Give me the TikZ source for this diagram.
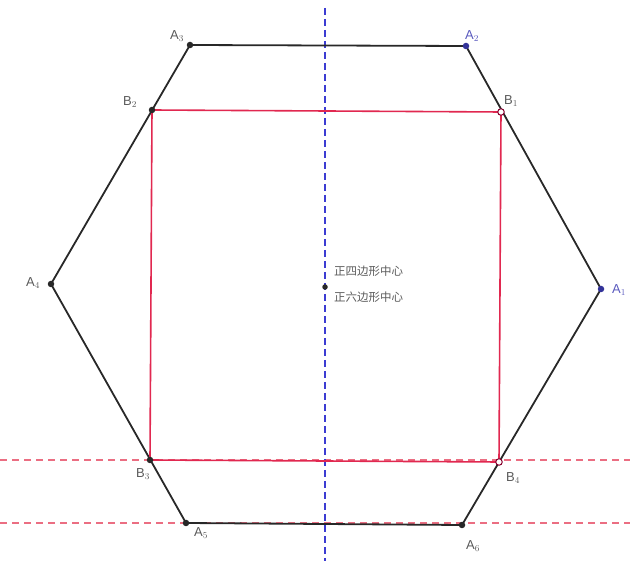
\documentclass[tikz,border=0pt]{standalone}
\usepackage{fontspec}
\setmainfont{Liberation Sans}
\newfontfamily\cjk{Noto Sans CJK SC}
\definecolor{hexc}{RGB}{40,40,40}
\definecolor{sqc}{RGB}{225,40,80}
\definecolor{guidec}{RGB}{235,110,130}
\definecolor{axisc}{RGB}{60,60,210}
\definecolor{labc}{RGB}{90,90,90}
\definecolor{blabc}{RGB}{90,90,190}
\begin{document}
\begin{tikzpicture}[x=1pt,y=-1pt,
  hexline/.style={draw=hexc,line width=1.8pt},
  sqline/.style={draw=sqc,line width=1.6pt},
  guide/.style={draw=guidec,dash pattern=on 7pt off 5pt,line width=1.1pt},
  axis/.style={draw=axisc,dash pattern=on 7pt off 4pt,line width=1.1pt},
  pt/.style={circle,fill=hexc,inner sep=0pt,minimum size=6.5pt},
  bpt/.style={circle,fill=blue!50!black!80,inner sep=0pt,minimum size=6.5pt},
  hpt/.style={circle,draw=purple!70!black,fill=white,line width=1pt,inner sep=0pt,minimum size=6.5pt},
  lab/.style={text=labc,font=\fontsize{13}{14}\selectfont,inner sep=1pt},
  blab/.style={text=blabc,font=\fontsize{13}{14}\selectfont,inner sep=1pt},
  ctext/.style={text=labc,font=\cjk\fontsize{11.5}{13}\selectfont,anchor=west,inner sep=0pt}]
\useasboundingbox (0,0) rectangle (630,561);
% guides
\coordinate (vt) at (325,8);
\coordinate (vb) at (325,561);
\coordinate (h1l) at (0,460);
\coordinate (h1r) at (630,460);
\coordinate (h2l) at (0,523);
\coordinate (h2r) at (630,523);
\draw[guide] (h1l) -- (h1r);
\draw[guide] (h2l) -- (h2r);
\draw[axis] (vt) -- (vb);
% hexagon
\coordinate (A1) at (601,289);
\coordinate (A2) at (466,46);
\coordinate (A3) at (190,45);
\coordinate (A4) at (51,284);
\coordinate (A5) at (186,523);
\coordinate (A6) at (462,525);
\draw[hexline] (A1) -- (A2) -- (A3) -- (A4) -- (A5) -- (A6) -- cycle;
% square
\coordinate (B1) at (501,112);
\coordinate (B2) at (152,110);
\coordinate (B3) at (150,460);
\coordinate (B4) at (499,462);
\draw[sqline] (B1) -- (B2) -- (B3) -- (B4) -- cycle;
% points
\node[bpt] (pA1) at (A1) {};
\node[bpt] (pA2) at (A2) {};
\node[pt] (pA3) at (A3) {};
\node[pt] (pA4) at (A4) {};
\node[pt] (pA5) at (A5) {};
\node[pt] (pA6) at (A6) {};
\node[hpt] (pB1) at (B1) {};
\node[pt] (pB2) at (B2) {};
\node[pt] (pB3) at (B3) {};
\node[hpt] (pB4) at (B4) {};
\node[pt,minimum size=5.5pt] (O) at (325,287) {};
% labels
\node[blab] (lA1) at (619,290) {A$_1$};
\node[blab] (lA2) at (472,36) {A$_2$};
\node[lab] (lA3) at (177,36) {A$_3$};
\node[lab] (lA4) at (33,283) {A$_4$};
\node[lab] (lA5) at (201,533) {A$_5$};
\node[lab] (lA6) at (473,546) {A$_6$};
\node[lab] (lB1) at (511,101) {B$_1$};
\node[lab] (lB2) at (130,102) {B$_2$};
\node[lab] (lB3) at (143,474) {B$_3$};
\node[lab] (lB4) at (513,478) {B$_4$};
\node[ctext] (t1) at (334,271) {正四边形中心};
\node[ctext] (t2) at (334,297) {正六边形中心};
\end{tikzpicture}
\end{document}
